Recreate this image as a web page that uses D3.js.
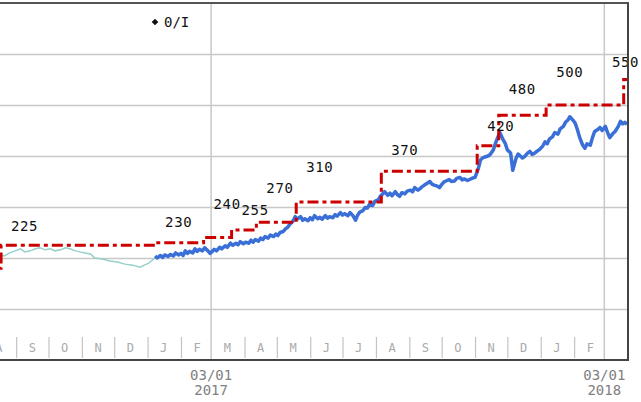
<!DOCTYPE html>
<html>
<head>
<meta charset="utf-8">
<script src="https://cdn.jsdelivr.net/npm/d3@7"></script>
<style>
  body { margin: 0; background: #fff; }
  svg { display: block; }
  text { font-family: "DejaVu Sans Mono", "Liberation Mono", monospace; }
</style>
</head>
<body>
<div id="chart"></div>
<script>
// price before the switch (thin teal) and after (thick blue)
var oldPrice = [
  ["2016-08-17", 206], ["2016-08-21", 204], ["2016-08-26", 210], ["2016-08-31", 214],
  ["2016-09-05", 218], ["2016-09-09", 212], ["2016-09-14", 214], ["2016-09-19", 218],
  ["2016-09-23", 220], ["2016-09-28", 216], ["2016-10-03", 218], ["2016-10-07", 214],
  ["2016-10-12", 216], ["2016-10-17", 220], ["2016-10-21", 218], ["2016-10-26", 214],
  ["2016-10-30", 212], ["2016-11-04", 210], ["2016-11-09", 208], ["2016-11-13", 200],
  ["2016-11-20", 198], ["2016-11-27", 194], ["2016-12-04", 192], ["2016-12-11", 188],
  ["2016-12-18", 186], ["2016-12-25", 182], ["2016-12-29", 186], ["2017-01-02", 190],
  ["2017-01-08", 200]
];

var newPrice = [
  ["2017-01-08", 204], ["2017-01-10", 200], ["2017-01-13", 205], ["2017-01-15", 201],
  ["2017-01-17", 206], ["2017-01-20", 203], ["2017-01-22", 207], ["2017-01-25", 204],
  ["2017-01-27", 210], ["2017-01-30", 206], ["2017-02-01", 209], ["2017-02-03", 205],
  ["2017-02-05", 214], ["2017-02-07", 209], ["2017-02-09", 213], ["2017-02-12", 210],
  ["2017-02-14", 218], ["2017-02-16", 213], ["2017-02-18", 217], ["2017-02-21", 214],
  ["2017-02-23", 220], ["2017-02-26", 214], ["2017-02-28", 209], ["2017-03-02", 213],
  ["2017-03-04", 217], ["2017-03-06", 214], ["2017-03-09", 221], ["2017-03-11", 218],
  ["2017-03-14", 224], ["2017-03-16", 221], ["2017-03-19", 229], ["2017-03-21", 225],
  ["2017-03-24", 229], ["2017-03-26", 226], ["2017-03-28", 232], ["2017-03-31", 228],
  ["2017-04-02", 231], ["2017-04-05", 229], ["2017-04-07", 235], ["2017-04-09", 231],
  ["2017-04-11", 236], ["2017-04-14", 233], ["2017-04-16", 239], ["2017-04-18", 236],
  ["2017-04-20", 242], ["2017-04-23", 239], ["2017-04-25", 245], ["2017-04-28", 242],
  ["2017-04-30", 247], ["2017-05-02", 244], ["2017-05-04", 250], ["2017-05-07", 252],
  ["2017-05-09", 257], ["2017-05-11", 260], ["2017-05-13", 266], ["2017-05-16", 272],
  ["2017-05-18", 281], ["2017-05-20", 276], ["2017-05-23", 281], ["2017-05-25", 274],
  ["2017-05-27", 277], ["2017-05-30", 273], ["2017-06-01", 279], ["2017-06-03", 275],
  ["2017-06-05", 283], ["2017-06-08", 277], ["2017-06-10", 280], ["2017-06-12", 276],
  ["2017-06-15", 283], ["2017-06-17", 278], ["2017-06-19", 281], ["2017-06-22", 279],
  ["2017-06-24", 285], ["2017-06-26", 282], ["2017-06-29", 289], ["2017-07-01", 284],
  ["2017-07-03", 287], ["2017-07-06", 283], ["2017-07-08", 289], ["2017-07-11", 282],
  ["2017-07-13", 274], ["2017-07-15", 284], ["2017-07-17", 290], ["2017-07-20", 293],
  ["2017-07-22", 299], ["2017-07-24", 298], ["2017-07-26", 305], ["2017-07-29", 303],
  ["2017-07-31", 311], ["2017-08-03", 314], ["2017-08-05", 321], ["2017-08-07", 325],
  ["2017-08-09", 330], ["2017-08-12", 323], ["2017-08-14", 327], ["2017-08-16", 322],
  ["2017-08-19", 330], ["2017-08-21", 324], ["2017-08-23", 321], ["2017-08-25", 328],
  ["2017-08-28", 326], ["2017-08-30", 331], ["2017-09-02", 333], ["2017-09-04", 330],
  ["2017-09-06", 338], ["2017-09-09", 333], ["2017-09-11", 336], ["2017-09-13", 340],
  ["2017-09-15", 343], ["2017-09-18", 347], ["2017-09-20", 350], ["2017-09-22", 345],
  ["2017-09-24", 343], ["2017-09-27", 341], ["2017-09-29", 338], ["2017-10-01", 344],
  ["2017-10-03", 349], ["2017-10-06", 352], ["2017-10-08", 354], ["2017-10-10", 350],
  ["2017-10-13", 351], ["2017-10-15", 356], ["2017-10-18", 358], ["2017-10-20", 353],
  ["2017-10-22", 355], ["2017-10-25", 352], ["2017-10-27", 354], ["2017-10-30", 357],
  ["2017-11-01", 358], ["2017-11-04", 375], ["2017-11-06", 392], ["2017-11-08", 396],
  ["2017-11-10", 398], ["2017-11-13", 400], ["2017-11-15", 403], ["2017-11-18", 412],
  ["2017-11-20", 425], ["2017-11-22", 436], ["2017-11-24", 446], ["2017-11-27", 432],
  ["2017-11-29", 425], ["2017-12-01", 412], ["2017-12-04", 406], ["2017-12-06", 372],
  ["2017-12-09", 395], ["2017-12-11", 404], ["2017-12-13", 400], ["2017-12-15", 396],
  ["2017-12-17", 399], ["2017-12-20", 406], ["2017-12-22", 409], ["2017-12-24", 403],
  ["2017-12-26", 405], ["2017-12-29", 410], ["2017-12-31", 413], ["2018-01-03", 420],
  ["2018-01-05", 428], ["2018-01-07", 424], ["2018-01-09", 433], ["2018-01-12", 438],
  ["2018-01-14", 446], ["2018-01-17", 443], ["2018-01-19", 453], ["2018-01-22", 458],
  ["2018-01-24", 466], ["2018-01-26", 470], ["2018-01-28", 477], ["2018-01-31", 470],
  ["2018-02-02", 464], ["2018-02-04", 452], ["2018-02-06", 437], ["2018-02-09", 421],
  ["2018-02-11", 415], ["2018-02-13", 424], ["2018-02-16", 421], ["2018-02-18", 436],
  ["2018-02-20", 448], ["2018-02-23", 452], ["2018-02-25", 456], ["2018-02-27", 450],
  ["2018-03-02", 458], ["2018-03-04", 446], ["2018-03-06", 436], ["2018-03-09", 444],
  ["2018-03-11", 448], ["2018-03-14", 458], ["2018-03-16", 468], ["2018-03-18", 463],
  ["2018-03-20", 466], ["2018-03-22", 462]
];

// target price changes
var targetDates = ["2016-08-01", "2016-08-18", "2017-01-08", "2017-02-22", "2017-03-20",
  "2017-04-12", "2017-05-19", "2017-08-06", "2017-11-03", "2017-11-23", "2018-01-06", "2018-03-19"];
var targetValues = [180, 225, 230, 240, 255, 270, 310, 370, 420, 480, 500, 550];
// how high each label sits above its step (layout only)
var labelLift = [14, 14, 16, 29, 15, 29, 30, 16, 15, 21, 28, 13];

var startDate = "2016-08-17";
var endDate = "2018-03-23";
var lastMonth = "2018-03-01";
var markerDates = ["2017-03-01", "2018-03-01"];
var yTicks = [100, 200, 300, 400, 500, 600];

var svgWidth = 641, svgHeight = 402;
var plot = { left: 0, top: 3, right: 628, bottom: 360 };

var parse = d3.utcParse("%Y-%m-%d");

var svg = d3.select("#chart").append("svg")
  .attr("width", svgWidth)
  .attr("height", svgHeight);

var x = d3.scaleUtc()
  .domain([parse(startDate), parse(endDate)])
  .range([plot.left, plot.right]);

var y = d3.scaleLinear()
  .domain([0, 700])
  .range([plot.bottom, plot.top]);

svg.append("defs").append("clipPath").attr("id", "clip")
  .append("rect")
  .attr("x", plot.left).attr("y", plot.top)
  .attr("width", plot.right - plot.left).attr("height", plot.bottom - plot.top);

// horizontal grid
svg.append("g")
  .attr("transform", `translate(${plot.left},0)`)
  .call(d3.axisLeft(y).tickValues(yTicks).tickSize(-(plot.right - plot.left)).tickFormat(""))
  .call(g => g.select(".domain").remove())
  .call(g => g.selectAll("line").attr("stroke", "#c8c8c8").attr("stroke-width", 1.5));

// month separators + letters (nothing after the last 03/01 marker)
var months = d3.utcMonth.range(d3.utcMonth.floor(parse(startDate)), parse(lastMonth));
var monthStarts = months.filter(d => d > parse(startDate) && d.getUTCMonth() !== 2);
svg.append("g")
  .attr("transform", `translate(0,${plot.bottom - 2})`)
  .call(d3.axisBottom(x).tickValues(monthStarts).tickSize(-21).tickFormat(""))
  .call(g => g.select(".domain").remove())
  .call(g => g.selectAll("line").attr("stroke", "#c4c4c4").attr("stroke-width", 1.2));

svg.append("g").selectAll("text")
  .data(months)
  .enter().append("text")
  .attr("x", d => x(d3.utcDay.offset(d, 15)))
  .attr("y", 352)
  .attr("text-anchor", "middle")
  .attr("font-size", 12)
  .attr("fill", "#aaaaaa")
  .text(d => d3.utcFormat("%b")(d).charAt(0));

// vertical grid at 03/01
svg.append("g").selectAll("line")
  .data(markerDates)
  .enter().append("line")
  .attr("x1", d => x(parse(d))).attr("x2", d => x(parse(d)))
  .attr("y1", plot.top).attr("y2", plot.bottom)
  .attr("stroke", "#c8c8c8").attr("stroke-width", 1.5);

var dateLabels = svg.append("g").selectAll("text")
  .data(markerDates)
  .enter().append("text")
  .attr("text-anchor", "middle")
  .attr("font-size", 14)
  .attr("fill", "#808080");
dateLabels.append("tspan")
  .attr("x", d => x(parse(d))).attr("y", 380)
  .text(d => d3.utcFormat("%m/%d")(parse(d)));
dateLabels.append("tspan")
  .attr("x", d => x(parse(d))).attr("y", 395)
  .text(d => d3.utcFormat("%Y")(parse(d)));

var lines = svg.append("g").attr("clip-path", "url(#clip)");

var priceLine = d3.line()
  .x(d => x(parse(d[0])))
  .y(d => y(d[1]));

lines.append("path")
  .datum(oldPrice)
  .attr("d", priceLine)
  .attr("fill", "none")
  .attr("stroke", "#96cfcc")
  .attr("stroke-width", 1.5);

lines.append("path")
  .datum(newPrice)
  .attr("d", priceLine)
  .attr("fill", "none")
  .attr("stroke", "#3a6fd8")
  .attr("stroke-width", 3.5)
  .attr("stroke-linejoin", "round");

// target step line
var targets = targetDates.map((d, i) => [d, targetValues[i]]);
var stepData = targets.concat([[endDate, targetValues[targetValues.length - 1]]]);
lines.append("path")
  .datum(stepData)
  .attr("d", d3.line().curve(d3.curveStepAfter).x(d => x(parse(d[0]))).y(d => y(d[1])))
  .attr("fill", "none")
  .attr("stroke", "#cc0000")
  .attr("stroke-width", 3)
  .attr("stroke-dasharray", "11,4,4,4");

// labels only for changes inside the visible range
svg.append("g").selectAll("text")
  .data(targets.map((d, i) => [d[0], d[1], labelLift[i]]).filter(d => parse(d[0]) >= parse(startDate)))
  .enter().append("text")
  .attr("x", d => Math.min(x(parse(d[0])) + 10, plot.right - 16))
  .attr("y", d => y(d[1]) - d[2])
  .attr("font-size", 14)
  .attr("letter-spacing", 0.6)
  .attr("fill", "#111")
  .text(d => d[1]);

// frame
svg.append("line").attr("x1", 0).attr("x2", plot.right + 1)
  .attr("y1", plot.top).attr("y2", plot.top)
  .attr("stroke", "#555").attr("stroke-width", 2);
svg.append("line").attr("x1", 0).attr("x2", plot.right + 1)
  .attr("y1", plot.bottom).attr("y2", plot.bottom)
  .attr("stroke", "#444").attr("stroke-width", 2);
svg.append("line").attr("x1", plot.right).attr("x2", plot.right)
  .attr("y1", plot.top).attr("y2", plot.bottom)
  .attr("stroke", "#444").attr("stroke-width", 2);

// legend
var legend = svg.append("g").attr("transform", "translate(155,22)");
legend.append("path")
  .attr("d", d3.symbol().type(d3.symbolSquare).size(22))
  .attr("transform", "rotate(45)")
  .attr("fill", "#111");
legend.append("text")
  .attr("x", 9).attr("y", 5)
  .attr("font-size", 14)
  .attr("fill", "#111")
  .text("0/I");
</script>
</body>
</html>
